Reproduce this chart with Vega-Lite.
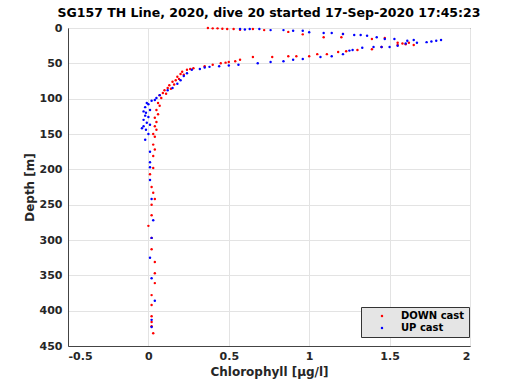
{
  "$schema": "https://vega.github.io/schema/vega-lite/v6.json",
  "autosize": {"type": "none"},
  "width": 402,
  "height": 318,
  "padding": {"left": 68, "top": 28, "right": 50, "bottom": 44},
  "background": "white",
  "title": {"text": "SG157 TH Line, 2020, dive 20 started 17-Sep-2020 17:45:23", "font": "DejaVu Sans", "fontSize": 12.5, "fontWeight": "bold", "color": "#000", "anchor": "middle", "offset": 3},
  "config": {
    "view": {"stroke": "#444", "strokeWidth": 1},
    "axis": {"labelFont": "DejaVu Sans", "titleFont": "DejaVu Sans", "labelFontSize": 11, "titleFontSize": 12, "labelFontWeight": "bold", "titleFontWeight": "bold", "labelColor": "#262626", "titleColor": "#262626", "gridColor": "#e3e3e3", "domainColor": "#444", "tickColor": "#444", "tickSize": 0}
  },
  "data": {"values": [
    {"x": 0.37, "depth": 0, "cast": "DOWN cast"}, {"x": 0.40, "depth": 0.5, "cast": "DOWN cast"}, {"x": 0.43, "depth": 0.5, "cast": "DOWN cast"}, {"x": 0.46, "depth": 1, "cast": "DOWN cast"}, {"x": 0.49, "depth": 1.5, "cast": "DOWN cast"}, {"x": 0.53, "depth": 1.5, "cast": "DOWN cast"}, {"x": 0.57, "depth": 2.5, "cast": "DOWN cast"}, {"x": 0.65, "depth": 1.5, "cast": "DOWN cast"}, {"x": 0.72, "depth": 3, "cast": "DOWN cast"}, {"x": 0.87, "depth": 5.5, "cast": "DOWN cast"}, {"x": 0.96, "depth": 9, "cast": "DOWN cast"}, {"x": 1.09, "depth": 13, "cast": "DOWN cast"}, {"x": 1.21, "depth": 8.5, "cast": "DOWN cast"}, {"x": 1.20, "depth": 13, "cast": "DOWN cast"}, {"x": 1.39, "depth": 15.5, "cast": "DOWN cast"}, {"x": 1.47, "depth": 14, "cast": "DOWN cast"}, {"x": 1.55, "depth": 21, "cast": "DOWN cast"}, {"x": 1.58, "depth": 22, "cast": "DOWN cast"}, {"x": 1.62, "depth": 21, "cast": "DOWN cast"}, {"x": 1.65, "depth": 24, "cast": "DOWN cast"}, {"x": 1.60, "depth": 23, "cast": "DOWN cast"},
    {"x": 1.55, "depth": 24, "cast": "DOWN cast"}, {"x": 1.45, "depth": 27, "cast": "DOWN cast"}, {"x": 1.39, "depth": 30, "cast": "DOWN cast"}, {"x": 1.30, "depth": 31, "cast": "DOWN cast"}, {"x": 1.23, "depth": 33, "cast": "DOWN cast"}, {"x": 1.18, "depth": 34, "cast": "DOWN cast"}, {"x": 1.11, "depth": 37, "cast": "DOWN cast"}, {"x": 1.05, "depth": 37, "cast": "DOWN cast"}, {"x": 1.00, "depth": 40, "cast": "DOWN cast"}, {"x": 0.92, "depth": 40, "cast": "DOWN cast"}, {"x": 0.87, "depth": 40, "cast": "DOWN cast"}, {"x": 0.77, "depth": 41, "cast": "DOWN cast"}, {"x": 0.65, "depth": 41, "cast": "DOWN cast"}, {"x": 0.57, "depth": 45, "cast": "DOWN cast"}, {"x": 0.54, "depth": 47, "cast": "DOWN cast"}, {"x": 0.50, "depth": 48, "cast": "DOWN cast"}, {"x": 0.48, "depth": 49, "cast": "DOWN cast"}, {"x": 0.45, "depth": 50, "cast": "DOWN cast"}, {"x": 0.40, "depth": 52, "cast": "DOWN cast"}, {"x": 0.35, "depth": 54, "cast": "DOWN cast"},
    {"x": 0.28, "depth": 57, "cast": "DOWN cast"}, {"x": 0.26, "depth": 58, "cast": "DOWN cast"}, {"x": 0.24, "depth": 59, "cast": "DOWN cast"}, {"x": 0.21, "depth": 62, "cast": "DOWN cast"}, {"x": 0.20, "depth": 65, "cast": "DOWN cast"}, {"x": 0.22, "depth": 66, "cast": "DOWN cast"}, {"x": 0.18, "depth": 69, "cast": "DOWN cast"}, {"x": 0.19, "depth": 72, "cast": "DOWN cast"}, {"x": 0.17, "depth": 74, "cast": "DOWN cast"}, {"x": 0.15, "depth": 76, "cast": "DOWN cast"}, {"x": 0.16, "depth": 80, "cast": "DOWN cast"}, {"x": 0.13, "depth": 81, "cast": "DOWN cast"}, {"x": 0.12, "depth": 85, "cast": "DOWN cast"}, {"x": 0.14, "depth": 86, "cast": "DOWN cast"}, {"x": 0.10, "depth": 88, "cast": "DOWN cast"}, {"x": 0.09, "depth": 92, "cast": "DOWN cast"}, {"x": 0.11, "depth": 93, "cast": "DOWN cast"}, {"x": 0.07, "depth": 95, "cast": "DOWN cast"}, {"x": 0.08, "depth": 99, "cast": "DOWN cast"}, {"x": 0.06, "depth": 106, "cast": "DOWN cast"}, {"x": 0.07, "depth": 110, "cast": "DOWN cast"}, {"x": 0.05, "depth": 116, "cast": "DOWN cast"}, {"x": 0.06, "depth": 122, "cast": "DOWN cast"}, {"x": 0.04, "depth": 127, "cast": "DOWN cast"}, {"x": 0.05, "depth": 133, "cast": "DOWN cast"}, {"x": 0.04, "depth": 139, "cast": "DOWN cast"}, {"x": 0.05, "depth": 144, "cast": "DOWN cast"}, {"x": 0.03, "depth": 150, "cast": "DOWN cast"}, {"x": 0.04, "depth": 154, "cast": "DOWN cast"},
    {"x": 0.03, "depth": 165, "cast": "DOWN cast"}, {"x": 0.04, "depth": 172, "cast": "DOWN cast"}, {"x": 0.03, "depth": 181, "cast": "DOWN cast"}, {"x": 0.03, "depth": 198, "cast": "DOWN cast"}, {"x": 0.01, "depth": 207, "cast": "DOWN cast"}, {"x": 0.02, "depth": 225, "cast": "DOWN cast"}, {"x": 0.03, "depth": 233, "cast": "DOWN cast"}, {"x": 0.04, "depth": 242, "cast": "DOWN cast"}, {"x": 0.02, "depth": 250, "cast": "DOWN cast"}, {"x": 0.02, "depth": 265, "cast": "DOWN cast"}, {"x": 0.0, "depth": 280, "cast": "DOWN cast"}, {"x": 0.02, "depth": 297, "cast": "DOWN cast"}, {"x": 0.02, "depth": 313, "cast": "DOWN cast"}, {"x": 0.04, "depth": 331, "cast": "DOWN cast"}, {"x": 0.04, "depth": 347, "cast": "DOWN cast"}, {"x": 0.04, "depth": 361, "cast": "DOWN cast"}, {"x": 0.02, "depth": 378, "cast": "DOWN cast"}, {"x": 0.02, "depth": 392, "cast": "DOWN cast"}, {"x": 0.02, "depth": 408, "cast": "DOWN cast"}, {"x": 0.02, "depth": 416, "cast": "DOWN cast"}, {"x": 0.02, "depth": 422, "cast": "DOWN cast"}, {"x": 0.03, "depth": 432, "cast": "DOWN cast"},
    {"x": 0.57, "depth": 1.5, "cast": "UP cast"}, {"x": 0.60, "depth": 2, "cast": "UP cast"}, {"x": 0.63, "depth": 1.5, "cast": "UP cast"}, {"x": 0.69, "depth": 1.5, "cast": "UP cast"}, {"x": 0.76, "depth": 3, "cast": "UP cast"}, {"x": 0.84, "depth": 3, "cast": "UP cast"}, {"x": 0.90, "depth": 4, "cast": "UP cast"}, {"x": 0.96, "depth": 4, "cast": "UP cast"}, {"x": 1.00, "depth": 6, "cast": "UP cast"}, {"x": 1.09, "depth": 7, "cast": "UP cast"}, {"x": 1.14, "depth": 7, "cast": "UP cast"}, {"x": 1.21, "depth": 8.5, "cast": "UP cast"}, {"x": 1.28, "depth": 10, "cast": "UP cast"}, {"x": 1.32, "depth": 10, "cast": "UP cast"}, {"x": 1.36, "depth": 11, "cast": "UP cast"}, {"x": 1.42, "depth": 13, "cast": "UP cast"}, {"x": 1.47, "depth": 15.5, "cast": "UP cast"}, {"x": 1.53, "depth": 15.5, "cast": "UP cast"}, {"x": 1.61, "depth": 18, "cast": "UP cast"}, {"x": 1.65, "depth": 17, "cast": "UP cast"},
    {"x": 1.82, "depth": 17, "cast": "UP cast"}, {"x": 1.79, "depth": 18, "cast": "UP cast"}, {"x": 1.76, "depth": 19, "cast": "UP cast"}, {"x": 1.73, "depth": 20, "cast": "UP cast"}, {"x": 1.67, "depth": 21, "cast": "UP cast"}, {"x": 1.60, "depth": 22, "cast": "UP cast"}, {"x": 1.55, "depth": 25, "cast": "UP cast"}, {"x": 1.50, "depth": 27, "cast": "UP cast"}, {"x": 1.45, "depth": 27, "cast": "UP cast"}, {"x": 1.40, "depth": 27, "cast": "UP cast"}, {"x": 1.33, "depth": 28, "cast": "UP cast"}, {"x": 1.27, "depth": 31, "cast": "UP cast"}, {"x": 1.25, "depth": 32, "cast": "UP cast"}, {"x": 1.21, "depth": 37, "cast": "UP cast"}, {"x": 1.14, "depth": 40, "cast": "UP cast"}, {"x": 1.07, "depth": 41, "cast": "UP cast"}, {"x": 0.96, "depth": 44, "cast": "UP cast"}, {"x": 0.90, "depth": 45, "cast": "UP cast"}, {"x": 0.84, "depth": 47, "cast": "UP cast"}, {"x": 0.76, "depth": 48, "cast": "UP cast"}, {"x": 0.68, "depth": 50, "cast": "UP cast"}, {"x": 0.56, "depth": 52, "cast": "UP cast"}, {"x": 0.50, "depth": 53, "cast": "UP cast"}, {"x": 0.44, "depth": 54, "cast": "UP cast"}, {"x": 0.38, "depth": 55, "cast": "UP cast"},
    {"x": 0.35, "depth": 56, "cast": "UP cast"}, {"x": 0.32, "depth": 58, "cast": "UP cast"}, {"x": 0.27, "depth": 59, "cast": "UP cast"}, {"x": 0.24, "depth": 64, "cast": "UP cast"}, {"x": 0.22, "depth": 68, "cast": "UP cast"}, {"x": 0.20, "depth": 74, "cast": "UP cast"}, {"x": 0.18, "depth": 79, "cast": "UP cast"}, {"x": 0.15, "depth": 85, "cast": "UP cast"}, {"x": 0.12, "depth": 88, "cast": "UP cast"}, {"x": 0.07, "depth": 95, "cast": "UP cast"}, {"x": 0.05, "depth": 99, "cast": "UP cast"}, {"x": 0.04, "depth": 102, "cast": "UP cast"}, {"x": 0.02, "depth": 103, "cast": "UP cast"}, {"x": -0.01, "depth": 106, "cast": "UP cast"}, {"x": 0.0, "depth": 108, "cast": "UP cast"}, {"x": -0.02, "depth": 112, "cast": "UP cast"}, {"x": 0.01, "depth": 116, "cast": "UP cast"}, {"x": -0.03, "depth": 118, "cast": "UP cast"}, {"x": -0.015, "depth": 120, "cast": "UP cast"}, {"x": -0.02, "depth": 124, "cast": "UP cast"}, {"x": 0.0, "depth": 126, "cast": "UP cast"}, {"x": -0.03, "depth": 130, "cast": "UP cast"}, {"x": -0.01, "depth": 134, "cast": "UP cast"}, {"x": 0.01, "depth": 137, "cast": "UP cast"}, {"x": -0.03, "depth": 139, "cast": "UP cast"}, {"x": -0.04, "depth": 142, "cast": "UP cast"}, {"x": -0.015, "depth": 144, "cast": "UP cast"}, {"x": 0.0, "depth": 150, "cast": "UP cast"}, {"x": -0.02, "depth": 158, "cast": "UP cast"},
    {"x": 0.01, "depth": 175, "cast": "UP cast"}, {"x": 0.01, "depth": 190, "cast": "UP cast"}, {"x": 0.01, "depth": 197, "cast": "UP cast"}, {"x": 0.01, "depth": 215, "cast": "UP cast"}, {"x": 0.02, "depth": 242, "cast": "UP cast"}, {"x": 0.03, "depth": 272, "cast": "UP cast"}, {"x": 0.02, "depth": 297, "cast": "UP cast"}, {"x": 0.01, "depth": 325, "cast": "UP cast"}, {"x": 0.02, "depth": 354, "cast": "UP cast"}, {"x": 0.04, "depth": 386, "cast": "UP cast"}, {"x": 0.02, "depth": 413, "cast": "UP cast"}, {"x": 0.02, "depth": 423, "cast": "UP cast"}
  ]},
  "mark": {"type": "circle", "size": 6, "opacity": 1},
  "encoding": {
    "x": {"field": "x", "type": "quantitative", "title": "Chlorophyll [μg/l]", "scale": {"domain": [-0.5, 2], "nice": false, "zero": false}, "axis": {"values": [-0.5, 0, 0.5, 1, 1.5, 2], "labelPadding": 4, "titlePadding": 5, "labelExpr": "replace(format(datum.value, '~g'), '−', '-')"}},
    "y": {"field": "depth", "type": "quantitative", "title": "Depth [m]", "scale": {"domain": [0, 450], "reverse": true, "nice": false}, "axis": {"values": [0, 50, 100, 150, 200, 250, 300, 350, 400, 450], "labelPadding": 6, "titlePadding": 3}},
    "color": {"field": "cast", "type": "nominal", "scale": {"domain": ["DOWN cast", "UP cast"], "range": ["#ff0000", "#0000ff"]},
      "legend": {"title": null, "orient": "none", "legendX": 293, "legendY": 279, "fillColor": "#e5e5e5", "strokeColor": "#333", "padding": 4, "labelFont": "DejaVu Sans", "labelFontSize": 10, "labelFontWeight": "bold", "labelColor": "#000", "symbolSize": 6, "symbolType": "circle", "rowPadding": 2, "labelOffset": 14, "symbolOffset": 12, "labelLimit": 200}}
  }
}
